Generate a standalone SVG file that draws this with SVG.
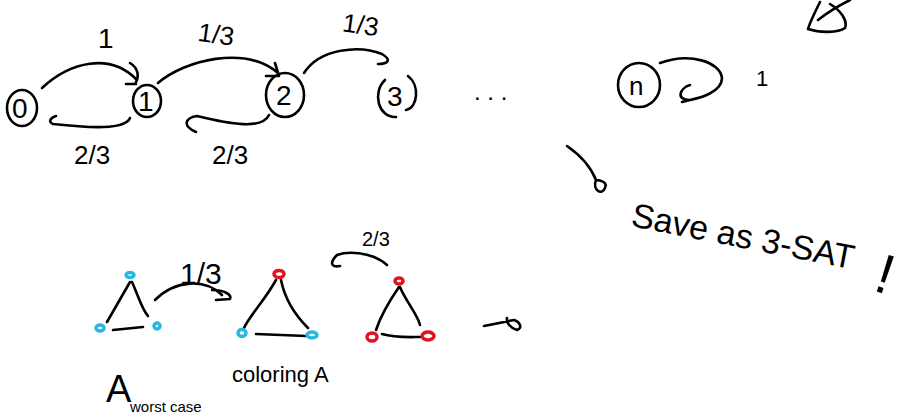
<svg xmlns="http://www.w3.org/2000/svg" width="906" height="418" viewBox="0 0 906 418">
<style>
.s{fill:none;stroke:#000;stroke-width:2.6;stroke-linecap:round;stroke-linejoin:round}
.t{font-family:"Liberation Sans",Arial,sans-serif;fill:#000}
.bl{fill:none;stroke:#29b6e6;stroke-width:3.5}
.rd{fill:none;stroke:#e0141e;stroke-width:3.5}
</style>
<rect width="906" height="418" fill="#fff"/>
<g id="connectors">
  <path class="s" d="M42 88 C70 62 110 52 137 80" stroke-width="5"/>
  <path class="s" d="M130 63 C138 68 140 76 135 84 M126 84 L136 84"/>
  <path class="s" d="M158 83 C185 60 245 45 278 73 M266 76 L279 76 L275 63"/>
  <path class="s" d="M304 73 C320 48 360 45 382 54 C392 60 388 64 378 64"/>
  <path class="s" d="M130 118 C125 130 90 128 53 124 C48 122 50 118 56 116"/>
  <path class="s" d="M269 115 C262 130 230 124 197 116 C185 118 182 126 196 132"/>
  <path class="s" d="M660 63 C690 52 720 62 722 78 C722 92 700 98 690 100 C675 100 680 88 690 85 M690 100 L682 102"/>
  <path class="s" d="M567 146 C580 155 590 165 596 180 C592 190 602 196 605 188 C608 182 600 180 596 180"/>
  <path class="s" d="M155 300 C175 280 205 278 222 295 M212 290 C225 290 232 295 230 299 L216 300"/>
  <path class="s" d="M387 265 C370 250 345 252 337 255 C330 262 330 268 340 266"/>
  <path class="s" d="M484 326 L514 320 C520 322 523 328 517 330 C510 328 506 322 507 318"/>
</g>
<g id="node0"><ellipse class="s" cx="22" cy="108" rx="15" ry="18"/><text class="t" x="12" y="118" font-size="28">0</text></g>
<g id="node1"><ellipse class="s" cx="147" cy="101" rx="14" ry="16"/><text class="t" x="138" y="111" font-size="28">1</text></g>
<g id="node2"><ellipse class="s" cx="285" cy="95" rx="19" ry="22"/><text class="t" x="276" y="105" font-size="28">2</text></g>
<g id="node3"><path class="s" d="M385 80 C372 92 378 118 396 117 M408 76 C420 85 418 108 406 110"/><text class="t" x="387" y="106" font-size="28">3</text></g>
<g id="noden"><ellipse class="s" cx="639" cy="85" rx="21" ry="22"/><text class="t" x="629" y="95" font-size="26">n</text></g>
<g id="labels">
  <text class="t" x="98" y="48" font-size="28">1</text>
  <text class="t" x="198" y="44" font-size="26" transform="rotate(8 220 35)">1/3</text>
  <text class="t" x="343" y="34" font-size="26" transform="rotate(8 362 22)">1/3</text>
  <text class="t" x="74" y="164" font-size="26">2/3</text>
  <text class="t" x="212" y="164" font-size="26">2/3</text>
  <text class="t" x="474" y="100" font-size="24">. . .</text>
  <text class="t" x="756" y="86" font-size="22">1</text>
  <text class="t" x="630" y="226" font-size="34" transform="rotate(11 630 226)">Save as 3-SAT</text>
  <text class="t" x="872" y="290" font-size="56" transform="rotate(18 872 290)">!</text>
  <text class="t" x="180" y="284" font-size="30">1/3</text>
  <text class="t" x="362" y="246" font-size="20">2/3</text>
  <text class="t" x="232" y="382" font-size="22">coloring A</text>
  <text class="t" x="106" y="402" font-size="38">A</text>
  <text class="t" x="130" y="412" font-size="15">worst case</text>
</g>
<g id="corner"><path class="s" d="M820 2 C815 12 810 22 808 29 C820 33 838 33 845 28 C848 20 840 10 830 4 M818 20 C828 12 838 6 850 0"/></g>
<g id="tri1">
  <path class="s" d="M130 282 L107 322 M132 282 C138 295 142 310 148 316 M113 330 L143 327"/>
  <ellipse class="bl" cx="130" cy="275" rx="4" ry="2.5"/>
  <ellipse class="bl" cx="100" cy="328" rx="4" ry="3"/>
  <ellipse class="bl" cx="157" cy="326" rx="3" ry="3"/>
</g>
<g id="tri2">
  <path class="s" d="M276 280 C265 300 250 315 244 328 M281 280 C285 300 295 315 308 328 M256 334 L306 336"/>
  <ellipse class="rd" cx="279" cy="274" rx="5" ry="3.5"/>
  <ellipse class="bl" cx="242" cy="333" rx="4" ry="3.5"/>
  <ellipse class="bl" cx="312" cy="335" rx="5" ry="3"/>
</g>
<g id="tri3">
  <path class="s" d="M399 287 C390 300 380 318 376 330 M400 287 C405 300 418 315 420 325 M382 334 C395 338 410 337 420 337"/>
  <ellipse class="rd" cx="399" cy="281" rx="4" ry="3"/>
  <ellipse class="rd" cx="372" cy="337" rx="5" ry="4"/>
  <ellipse class="rd" cx="428" cy="336" rx="6" ry="4"/>
</g>
</svg>
